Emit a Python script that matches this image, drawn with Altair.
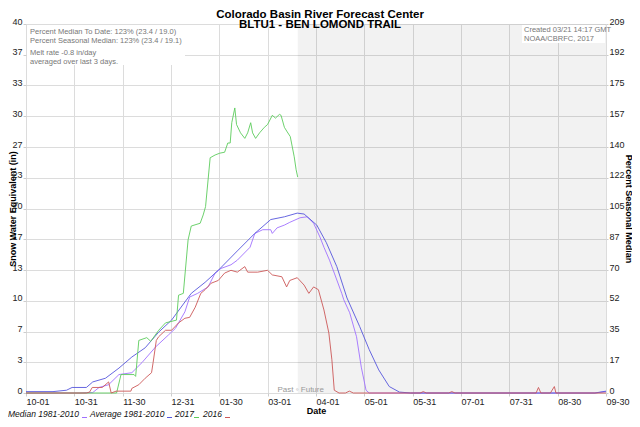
import json
import altair as alt
import pandas as pd

W, H = 580, 369
FONT = "Liberation Sans"

tick_labels = ["10-01", "10-31", "11-30", "12-31", "01-30", "03-01", "04-01",
               "05-01", "05-31", "07-01", "07-31", "08-30", "09-30"]

series_names = ["Median 1981-2010", "Average 1981-2010", "2017", "2016"]
series_colors = ["#a070ff", "#5656dc", "#5ccc5c", "#cc5858"]

median_days = [0, 34, 42, 46, 52, 58.5, 66.6, 73, 81.6, 89.7, 94, 100, 103, 108, 114.6,
               119, 122.7, 129, 133, 141, 144, 149, 154, 155, 158, 162.6, 166, 172.5,
               177, 181, 185, 187.5, 191, 194, 198.7, 200, 203.7, 208, 211, 214, 216,
               358, 365]
median_swe = [0, 0, 0.05, 0.6, 0.9, 2.0, 2.2, 3.3, 5.0, 6.3, 7.0, 8.8, 10.4, 10.8, 11.5,
              13.0, 13.5, 13.9, 14.4, 15.8, 17.3, 17.7, 17.7, 17.3, 17.9, 18.2, 18.5, 19.0,
              19.1, 18.4, 16.9, 15.8, 14.4, 13.0, 10.8, 10.1, 8.7, 6.1, 2.8, 0.3, 0,
              0, 0.15]

average_days = [0, 17, 25.5, 29, 38, 42, 50, 58.5, 66.6, 75, 83.5, 91.6, 104, 112.7, 121,
                133, 144, 154, 162.6, 170.7, 175, 183, 189, 195.6, 202, 210, 216, 222,
                228.6, 235, 242, 358, 365]
average_swe = [0.15, 0.15, 0.3, 0.6, 0.6, 1.2, 1.6, 2.7, 3.9, 4.9, 6.6, 7.9, 10.8, 12.0, 13.3,
               15.4, 17.3, 18.8, 19.1, 19.5, 19.4, 18.2, 16.3, 13.7, 10.3, 7.2, 4.7, 2.5,
               0.7, 0.1, 0, 0, 0.2]

y2017_days = [0, 57, 59.8, 68, 69, 71, 76, 78.5, 83.5, 87.8, 94.7, 96, 99, 102, 104, 109.6,
              111.5, 113, 115.9, 119, 122, 125, 127, 128.5, 129.5, 131.4, 132.5, 135, 137.7,
              139.5, 141.4, 142.6, 144.5, 147, 150, 152, 155, 157, 159.5, 160.5, 162.6,
              164.4, 166.3, 168.8, 170, 171]
y2017_swe = [0, 0, 2.0, 2.0, 1.8, 5.7, 6.0, 5.6, 6.8, 7.6, 7.9, 10.6, 10.8, 16.6, 18.1, 18.4,
             19.3, 20.2, 25.5, 25.8, 26.0, 26.1, 27.1, 27.1, 29.3, 30.9, 29.1, 28.2, 27.6,
             28.2, 29.3, 28.2, 27.6, 28.2, 28.8, 29.1, 30.1, 29.8, 30.2, 30.1, 28.8,
             28.3, 27.8, 25.6, 24.2, 23.4]

y2016_days = [0, 38, 40, 41.7, 48, 52, 53.6, 56.7, 66, 66.6, 71, 75, 79, 80, 82, 83.5, 87.8,
              91.6, 96, 100, 103, 106.5, 110, 112.7, 116.5, 121, 125, 129, 133, 137.7, 139.5,
              145.8, 152, 155, 161, 164, 166, 170.7, 175, 178, 181, 184, 187.5, 190.6, 192.5,
              194, 197, 201, 203.5, 206, 248, 250, 252, 266, 268, 270, 321, 322.5, 324, 330,
              332.5, 333.5, 365]
y2016_swe = [0, 0, 0.1, 0.6, 0.6, 1.2, 0, 0.2, 0.2, 0.5, 0.9, 1.6, 2.2, 3.3, 5.7, 6.1, 6.8,
             6.8, 7.6, 8.1, 8.2, 9.3, 10.8, 11.2, 11.9, 12.2, 13.0, 13.3, 13.1, 13.7, 13.1,
             13.1, 13.3, 12.8, 12.6, 11.5, 12.2, 12.5, 11.7, 10.8, 11.5, 11.2, 9.0, 6.5, 3.6,
             0.3, 0, 0, 0.2, 0, 0, 0.15, 0, 0, 0.15, 0, 0, 0.6, 0, 0,
             0.7, 0, 0]

future_start = [171]
future_end = [365]

info_left = ["Percent Median To Date: 123% (23.4 / 19.0)",
             "Percent Seasonal Median: 123% (23.4 / 19.1)",
             "Melt rate -0.8 in/day",
             "averaged over last 3 days."]
info_right = ["Created 03/21 14:17 GMT", "NOAA/CBRFC, 2017"]
title_lines = ["Colorado Basin River Forecast Center", "BLTU1 - BEN LOMOND TRAIL"]
seasonal_median = 19.1

# ---------------------------------------------------------------------------
series_data = [median_days, average_days, y2017_days, y2016_days]
series_vals = [median_swe, average_swe, y2017_swe, y2016_swe]

x_scale = alt.Scale(domain=[0, 365], nice=False, zero=False)
y_scale = alt.Scale(domain=[0, 40], nice=False)

label_expr = json.dumps(tick_labels).replace('"', "'") + "[round(datum.value*12/365)]"

x_axis = alt.Axis(values=[i * 365 / 12 for i in range(13)], labelExpr=label_expr,
                  grid=True, gridColor="#dcdcdc", domain=False, ticks=True, tickSize=3,
                  tickColor="#cccccc", labelAlign="left", labelPadding=1, labelOverlap=False,
                  labelFont=FONT, labelFontSize=9, labelColor="#222222",
                  title="Date", titleFont=FONT, titleFontSize=9, titleFontWeight="bold",
                  titleColor="#000000", titleY=13)

y_axis = alt.Axis(values=[i * 40 / 12 for i in range(13)], format=".0f", grid=True,
                  gridColor="#dcdcdc", domain=False, ticks=True, tickSize=3,
                  tickColor="#cccccc", labelPadding=1, labelBaseline="alphabetic",
                  labelOverlap=False, labelFont=FONT, labelFontSize=9, labelColor="#222222",
                  title="Snow Water Equivalent (in)", titleFont=FONT, titleFontSize=9,
                  titleFontWeight="bold", titleColor="#000000", titleX=-9, titleY=H / 2)

pct_max = 40 * 100 / seasonal_median
y_right_axis = alt.Axis(orient="right",
                        values=[i * (40 / 12) * 100 / seasonal_median for i in range(13)],
                        format=".0f", grid=False, domain=False, ticks=True, tickSize=2,
                        tickColor="#cccccc", labelPadding=1, labelBaseline="alphabetic",
                        labelOverlap=False, labelFont=FONT, labelFontSize=9,
                        labelColor="#222222", title="Percent Seasonal Median",
                        titleFont=FONT, titleFontSize=9, titleFontWeight="bold",
                        titleColor="#000000", titleX=17, titleY=H / 2)

one = pd.DataFrame({"a": [0]})
shade_df = pd.DataFrame({"start": future_start, "end": future_end})

shade = alt.Chart(shade_df).mark_rect(color="#000000", opacity=0.05).encode(
    x=alt.X("start:Q", scale=x_scale, axis=x_axis),
    x2="end:Q",
    y=alt.value(0), y2=alt.value(H))

lines = []
for name, days, vals, col in zip(series_names, series_data, series_vals, series_colors):
    d = pd.DataFrame({"day": days, "swe": vals})
    lines.append(alt.Chart(d).mark_line(color=col, strokeWidth=0.9).encode(
        x=alt.X("day:Q", scale=x_scale, axis=x_axis),
        y=alt.Y("swe:Q", scale=y_scale, axis=y_axis)))


def txt(text, x, y, size=7.5, color="#777777", align="left", weight="normal",
        style="normal"):
    return alt.Chart(one).mark_text(text=text, align=align, baseline="alphabetic",
                                    font=FONT, fontSize=size, color=color,
                                    fontWeight=weight, fontStyle=style).encode(
        x=alt.value(x), y=alt.value(y))


box_left = alt.Chart(one).mark_rect(color="white").encode(
    x=alt.value(1), x2=alt.value(159), y=alt.value(1), y2=alt.value(41))
box_right = alt.Chart(one).mark_rect(color="white").encode(
    x=alt.value(W - 84), x2=alt.value(W - 1), y=alt.value(1), y2=alt.value(19))

annos = [box_left, box_right]
for t, yy in zip(info_left, [10, 19, 31, 39.5]):
    annos.append(txt(t, 4, yy))
for t, yy in zip(info_right, [8, 17]):
    annos.append(txt(t, W - 82, yy))

annos.append(txt(title_lines[0], 294, -6.5, size=11.5, color="#000000", align="center",
                 weight="bold"))
annos.append(txt(title_lines[1], 294, 4, size=11.5, color="#000000", align="center",
                 weight="bold"))

past_future = alt.Chart(shade_df).mark_text(text="Past \u25e6 Future", font=FONT, fontSize=8,
                                           color="#999999", align="center",
                                           baseline="middle", dx=3).encode(
    x=alt.X("start:Q", scale=x_scale, axis=x_axis), y=alt.value(365.5))

# inline legend
leg_x_text = [-18, 64, 149, 177]
leg_x_mark = [56, 141, 168, 199]
legend = []
for name, col, xt, xm in zip(series_names, series_colors, leg_x_text, leg_x_mark):
    legend.append(txt(name, xt, 393, size=8.5, color="#111111", style="italic"))
    legend.append(alt.Chart(one).mark_rule(color=col, strokeWidth=1).encode(
        x=alt.value(xm), x2=alt.value(xm + 5), y=alt.value(393.5)))

main = alt.layer(shade, *lines, *annos, past_future, *legend)

right = alt.Chart(pd.DataFrame({"pct": [0, pct_max]})).mark_point(opacity=0).encode(
    y=alt.Y("pct:Q", scale=alt.Scale(domain=[0, pct_max], nice=False), axis=y_right_axis))

chart = alt.layer(main, right).resolve_scale(y="independent").properties(
    width=W, height=H,
    autosize=alt.AutoSizeParams(type="none"),
    padding={"left": 18, "top": 16, "right": 26, "bottom": 26},
    background="white",
).configure_view(stroke=None)

chart.save("out.html", embed_options={"renderer": "svg", "actions": False})
